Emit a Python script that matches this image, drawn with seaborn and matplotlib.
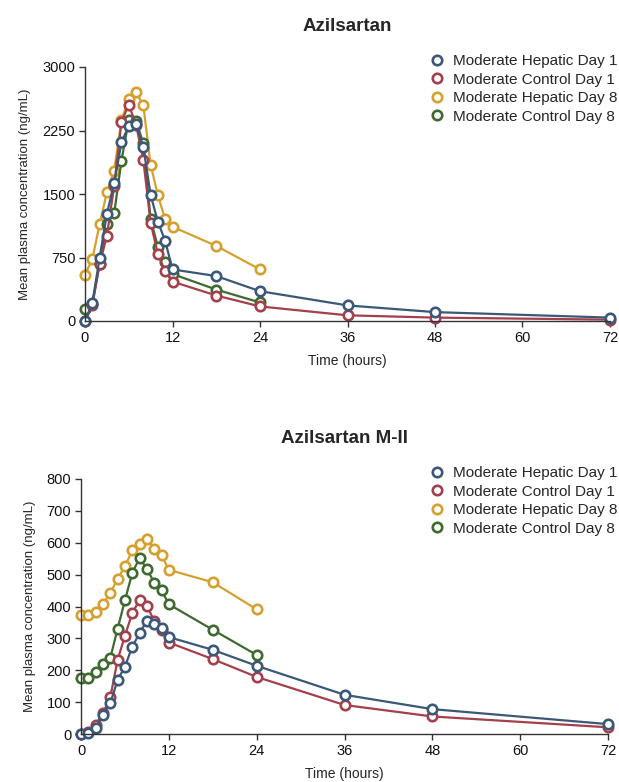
import matplotlib
matplotlib.use('Agg')
import matplotlib.pyplot as plt
from matplotlib.lines import Line2D
import pandas as pd
import seaborn as sns

sns.set_style('white')
plt.rcParams['font.family'] = ['Liberation Sans', 'DejaVu Sans']

# sampling times (hours)
TIME = [0, 1, 2, 3, 4, 5, 6, 7, 8, 9, 10, 11, 12, 18, 24, 36, 48, 72]
TIME_D8 = TIME[:15]  # day 8 profiles stop at 24 h

SERIES = ['Moderate Hepatic Day 1', 'Moderate Control Day 1',
          'Moderate Hepatic Day 8', 'Moderate Control Day 8']
COLORS = ['#3b5878', '#a3404c', '#d4a12f', '#3f6a2f']

# Azilsartan (ng/mL)
azl_hep_d1 = [0, 211, 742, 1266, 1625, 2109, 2305, 2328, 2055, 1488, 1172, 945, 609, 531, 352, 184, 105, 40]
azl_ctl_d1 = [0, 184, 672, 1004, 1600, 2351, 2555, 2320, 1902, 1160, 789, 586, 465, 301, 172, 67, 40, 16]
azl_hep_d8 = [547, 730, 1140, 1523, 1777, 2371, 2625, 2703, 2547, 1844, 1484, 1199, 1113, 887, 609]
azl_ctl_d8 = [145, 203, 670, 1150, 1270, 1894, 2371, 2359, 2098, 1199, 875, 691, 555, 371, 219]

# Azilsartan M-II (ng/mL)
m2_hep_d1 = [0, 2, 20, 60, 96, 170, 211, 274, 316, 355, 344, 334, 304, 264, 214, 123, 78, 31]
m2_ctl_d1 = [0, 5, 28, 65, 115, 232, 308, 379, 421, 402, 355, 325, 287, 235, 179, 91, 55, 21]
m2_hep_d8 = [374, 372, 384, 408, 442, 487, 526, 576, 596, 612, 580, 562, 515, 476, 391]
m2_ctl_d8 = [175, 175, 194, 219, 238, 330, 419, 505, 552, 518, 475, 452, 407, 327, 248]

FIG_W, FIG_H = 619, 782


def make_frame(values):
    rows = []
    for name, vals in zip(SERIES, values):
        times = TIME if len(vals) == len(TIME) else TIME_D8
        rows += [(name, t, v) for t, v in zip(times, vals)]
    return pd.DataFrame(rows, columns=['group', 'time', 'conc'])


def plot_panel(fig, rect, df, title, yticks, legend_y):
    ax = fig.add_axes(rect)
    # draw order: yellow, green, red, blue on top
    for idx in [2, 3, 1, 0]:
        sub = df[df['group'] == SERIES[idx]]
        sns.lineplot(data=sub, x='time', y='conc', ax=ax, color=COLORS[idx],
                     lw=1.6, marker='o', markersize=6.8, markerfacecolor='white',
                     markeredgecolor=COLORS[idx], markeredgewidth=1.9,
                     clip_on=False, legend=False)
    ax.set_xlim(0, 72)
    ax.set_ylim(yticks[0], yticks[-1])
    ax.set_xticks([0, 12, 24, 36, 48, 60, 72])
    ax.set_yticks(yticks)
    for s in ['top', 'right']:
        ax.spines[s].set_visible(False)
    for s in ['left', 'bottom']:
        ax.spines[s].set_color('#333333')
        ax.spines[s].set_linewidth(1.0)
    ax.tick_params(axis='both', which='major', labelsize=10.5, direction='out',
                   length=4, width=1, color='#333333', labelcolor='#111111', pad=3,
                   left=True, bottom=True)
    ax.set_xlabel('Time (hours)', fontsize=10, labelpad=7)
    ax.set_ylabel('Mean plasma concentration (ng/mL)', fontsize=9.5, labelpad=8)
    ax.set_title(title, fontsize=13.5, fontweight='bold', pad=26)

    handles = [Line2D([], [], linestyle='none', marker='o', markersize=6.8,
                      markerfacecolor='white', markeredgecolor=c, markeredgewidth=1.9)
               for c in COLORS]
    fig.legend(handles, SERIES, loc='upper left', frameon=False, fontsize=11,
               bbox_to_anchor=(428 / FIG_W, 1 - legend_y / FIG_H),
               handletextpad=0.45, labelspacing=0.3, borderaxespad=0,
               borderpad=0, handlelength=1.2)
    return ax


fig = plt.figure(figsize=(FIG_W / 100, FIG_H / 100), dpi=100)

plot_panel(fig, [85 / FIG_W, 1 - 321 / FIG_H, 525 / FIG_W, 254 / FIG_H],
           make_frame([azl_hep_d1, azl_ctl_d1, azl_hep_d8, azl_ctl_d8]),
           'Azilsartan', [0, 750, 1500, 2250, 3000], legend_y=54)

plot_panel(fig, [81 / FIG_W, 1 - 734 / FIG_H, 527 / FIG_W, 255 / FIG_H],
           make_frame([m2_hep_d1, m2_ctl_d1, m2_hep_d8, m2_ctl_d8]),
           'Azilsartan M-II', list(range(0, 801, 100)), legend_y=466)

fig.savefig('out.png', dpi=100, facecolor='white')
